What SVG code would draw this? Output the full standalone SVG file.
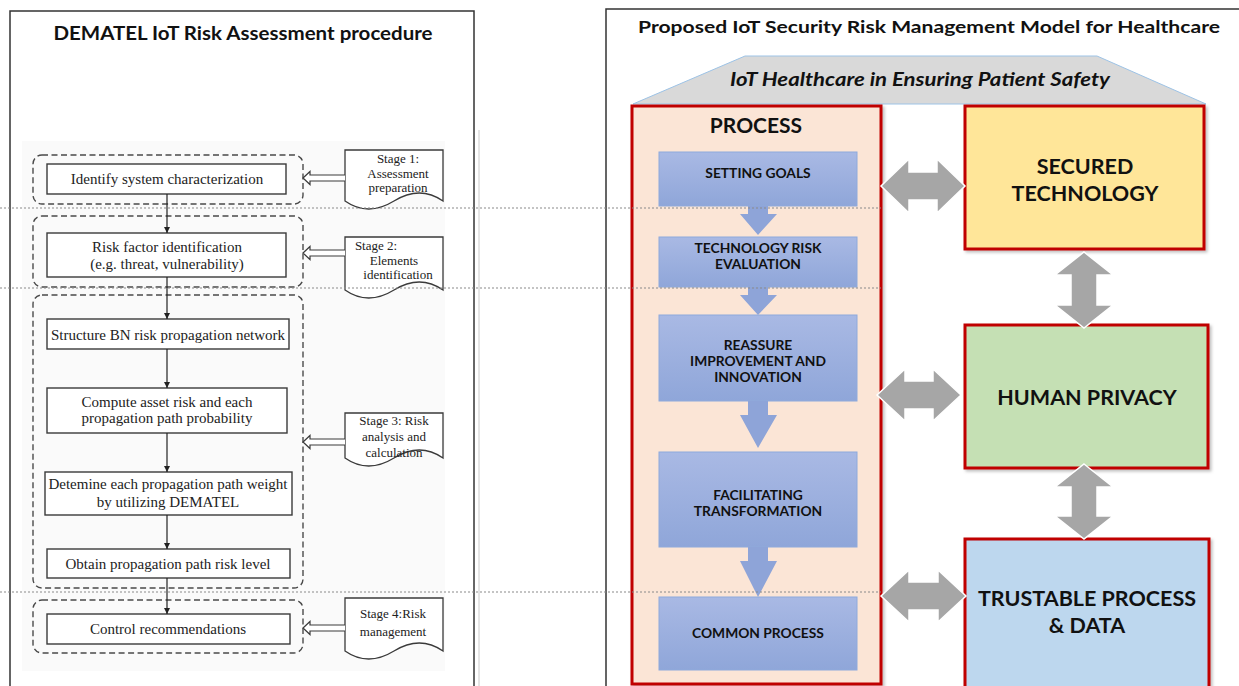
<svg xmlns="http://www.w3.org/2000/svg" width="1239" height="686" viewBox="0 0 1239 686">
  <style>
    .panel { fill: #ffffff; stroke: #333333; stroke-width: 1.5; }
    .title { font-family: Lato, "Open Sans", sans-serif; font-weight: bold; fill: #111111; text-anchor: middle; }
    .flowbox { fill: #ffffff; stroke: #3a3a3a; stroke-width: 1.4; }
    .group { fill: none; stroke: #4a4a4a; stroke-width: 1.4; stroke-dasharray: 6 3.5; }
    .serif { font-family: "Liberation Serif", "DejaVu Serif", serif; font-size: 15px; fill: #222222; text-anchor: middle; }
    .docfont { font-size: 13px; }
    .doc { fill: #ffffff; stroke: #3a3a3a; stroke-width: 1.3; }
    .hollow { fill: #ffffff; stroke: #3a3a3a; stroke-width: 1.2; }
    .link { stroke: #222222; stroke-width: 1.2; fill: none; marker-end: url(#tip); }
    .guide { stroke: #8a8a8a; stroke-width: 1.2; stroke-dasharray: 2 2; fill: none; }
    .step { fill: url(#stepFill); stroke: #8eaadb; stroke-width: 1; }
    .chev { fill: #8ea4d8; }
    .steptxt { font-family: Lato, "Open Sans", sans-serif; font-weight: bold; font-size: 13.8px; fill: #111111; text-anchor: middle; }
    .pillar { stroke: #c00000; stroke-width: 3; filter: url(#shade); }
    .pillartxt { font-family: Lato, "Open Sans", sans-serif; font-weight: bold; font-size: 21.5px; fill: #111111; text-anchor: middle; }
    .dbl { fill: #a6a6a6; stroke: #ffffff; stroke-width: 1.5; }
  </style>
  <defs>
    <marker id="tip" viewBox="0 0 10 10" refX="10" refY="5" markerWidth="6" markerHeight="6" orient="auto" markerUnits="userSpaceOnUse">
      <path d="M0,0 L10,5 L0,10 Z" fill="#222222"/>
    </marker>
    <linearGradient id="stepFill" x1="0" y1="0" x2="0" y2="1">
      <stop offset="0" stop-color="#a9b9e4"/>
      <stop offset="1" stop-color="#8fa6d9"/>
    </linearGradient>
    <filter id="shade" x="-5%" y="-5%" width="115%" height="115%">
      <feDropShadow dx="2" dy="2" stdDeviation="1.5" flood-color="#000000" flood-opacity="0.25"/>
    </filter>
  </defs>

  <rect width="1239" height="686" fill="#ffffff"/>

  <!-- left panel: DEMATEL procedure -->
  <rect class="panel" x="10" y="11" width="464" height="690"/>
  <line x1="479" y1="130" x2="479" y2="686" stroke="#c8c8c8" stroke-width="1"/>
  <text class="title" x="243" y="40" font-size="18" textLength="379" lengthAdjust="spacingAndGlyphs">DEMATEL IoT Risk Assessment procedure</text>
  <rect x="22" y="141" width="423" height="530" fill="#fafafa"/>

  <!-- right panel: proposed model -->
  <rect class="panel" x="606" y="9" width="660" height="700" stroke="#555555"/>
  <text class="title" x="929" y="33" font-size="17" textLength="582" lengthAdjust="spacingAndGlyphs">Proposed IoT Security Risk Management Model for Healthcare</text>

  <g id="roof">
    <polygon points="745,56 1097,56 1206,104 633,104" fill="#d9d9d9" stroke="#9dc3e6" stroke-width="1"/>
    <text class="title" x="920" y="86" font-size="18" font-style="italic" textLength="380" lengthAdjust="spacingAndGlyphs">IoT Healthcare in Ensuring Patient Safety</text>
  </g>

  <!-- stage groups (dashed) -->
  <g id="stage-group-1"><rect class="group" x="33" y="155" width="270" height="49" rx="9"/></g>
  <g id="stage-group-2"><rect class="group" x="33" y="216" width="270" height="71" rx="9"/></g>
  <g id="stage-group-3"><rect class="group" x="33" y="295" width="270" height="293" rx="9"/></g>
  <g id="stage-group-4"><rect class="group" x="33" y="600" width="270" height="53" rx="9"/></g>

  <!-- flow steps -->
  <g id="identify">
    <rect class="flowbox" x="47" y="164" width="239" height="30"/>
    <text class="serif" x="167" y="184">Identify system characterization</text>
  </g>
  <g id="risk-factor">
    <rect class="flowbox" x="47" y="233" width="239" height="44"/>
    <text class="serif" x="167" y="252">Risk factor identification</text>
    <text class="serif" x="167" y="269">(e.g. threat, vulnerability)</text>
  </g>
  <g id="structure-bn">
    <rect class="flowbox" x="47" y="319" width="242" height="30"/>
    <text class="serif" x="168" y="339.5">Structure BN risk propagation network</text>
  </g>
  <g id="compute-risk">
    <rect class="flowbox" x="47" y="388" width="240" height="45"/>
    <text class="serif" x="167" y="407">Compute asset risk and each</text>
    <text class="serif" x="167" y="423">propagation path probability</text>
  </g>
  <g id="path-weight">
    <rect class="flowbox" x="45" y="472" width="247" height="43"/>
    <text class="serif" x="168" y="488.5">Detemine each propagation path weight</text>
    <text class="serif" x="168" y="506.5">by utilizing DEMATEL</text>
  </g>
  <g id="risk-level">
    <rect class="flowbox" x="47" y="549" width="243" height="29"/>
    <text class="serif" x="168" y="568.5">Obtain propagation path risk level</text>
  </g>
  <g id="control">
    <rect class="flowbox" x="47" y="614" width="243" height="30"/>
    <text class="serif" x="168" y="634">Control recommendations</text>
  </g>

  <!-- stage labels -->
  <g id="stage-1">
    <path class="doc" d="M345,150 H443 V201 Q420,185 394,201 Q368,217 345,201 Z"/>
    <text class="serif docfont" x="398" y="163">Stage 1:</text>
    <text class="serif docfont" x="398" y="177.5">Assessment</text>
    <text class="serif docfont" x="398" y="192">preparation</text>
  </g>
  <g id="stage-2">
    <path class="doc" d="M345,237 H443 V290 Q420,274 394,290 Q368,306 345,290 Z"/>
    <text class="serif docfont" x="376" y="250">Stage 2:</text>
    <text class="serif docfont" x="394" y="264.5">Elements</text>
    <text class="serif docfont" x="398" y="279">identification</text>
  </g>
  <g id="stage-3">
    <path class="doc" d="M345,413 H443 V458 Q420,442 394,458 Q368,474 345,458 Z"/>
    <text class="serif docfont" x="394" y="424.5">Stage 3: Risk</text>
    <text class="serif docfont" x="394" y="440.5">analysis and</text>
    <text class="serif docfont" x="394" y="456.5">calculation</text>
  </g>
  <g id="stage-4">
    <path class="doc" d="M345,598 H443 V651 Q420,635 394,651 Q368,667 345,651 Z"/>
    <text class="serif docfont" x="393" y="617.5">Stage 4:Risk</text>
    <text class="serif docfont" x="393" y="635.5">management</text>
  </g>

  <!-- process column -->
  <g id="process">
    <rect class="pillar" x="632" y="106" width="249" height="578" fill="#fbe5d6"/>
    <text class="title" x="756" y="132.5" font-size="21">PROCESS</text>
  </g>
  <g id="setting-goals">
    <rect class="step" x="659" y="152" width="198" height="54"/>
    <text class="steptxt" x="758" y="178">SETTING GOALS</text>
  </g>
  <g id="tech-risk">
    <rect class="step" x="659" y="237" width="198" height="50"/>
    <text class="steptxt" x="758" y="253">TECHNOLOGY RISK</text>
    <text class="steptxt" x="758" y="269">EVALUATION</text>
  </g>
  <g id="reassure">
    <rect class="step" x="659" y="315" width="198" height="86"/>
    <text class="steptxt" x="758" y="350">REASSURE</text>
    <text class="steptxt" x="758" y="366">IMPROVEMENT AND</text>
    <text class="steptxt" x="758" y="382">INNOVATION</text>
  </g>
  <g id="facilitating">
    <rect class="step" x="659" y="452" width="198" height="95"/>
    <text class="steptxt" x="758" y="500">FACILITATING</text>
    <text class="steptxt" x="758" y="516">TRANSFORMATION</text>
  </g>
  <g id="common-process">
    <rect class="step" x="659" y="597" width="198" height="73"/>
    <text class="steptxt" x="758" y="638">COMMON PROCESS</text>
  </g>

  <!-- pillars -->
  <g id="secured-technology">
    <rect class="pillar" x="965" y="106" width="239" height="143" fill="#ffe699"/>
    <text class="pillartxt" x="1085" y="173.5">SECURED</text>
    <text class="pillartxt" x="1085" y="200.5">TECHNOLOGY</text>
  </g>
  <g id="human-privacy">
    <rect class="pillar" x="965" y="325" width="243" height="143" fill="#c5e0b4"/>
    <text class="pillartxt" x="1087" y="404.5">HUMAN PRIVACY</text>
  </g>
  <g id="trustable">
    <rect class="pillar" x="965" y="539" width="244" height="160" fill="#bdd7ee"/>
    <text class="pillartxt" x="1087" y="605.5">TRUSTABLE PROCESS</text>
    <text class="pillartxt" x="1087" y="632.5">&amp; DATA</text>
  </g>

  <!-- connectors -->
  <g id="connectors">
    <!-- flow links -->
    <line class="link" x1="167" y1="194" x2="167" y2="233"/>
    <line class="link" x1="167" y1="277" x2="167" y2="319"/>
    <line class="link" x1="167" y1="349" x2="167" y2="388"/>
    <line class="link" x1="167" y1="433" x2="167" y2="472"/>
    <line class="link" x1="167" y1="515" x2="167" y2="549"/>
    <line class="link" x1="167" y1="578" x2="167" y2="614"/>

    <!-- hollow stage pointers -->
    <path class="hollow" d="M345,175 H310 V171.5 L303,178 L310,184.5 V181 H345"/>
    <path class="hollow" d="M345,250 H310 V246.5 L303,253 L310,259.5 V256 H345"/>
    <path class="hollow" d="M345,439 H310 V435.5 L303,442 L310,448.5 V445 H345"/>
    <path class="hollow" d="M345,625 H310 V621.5 L303,628 L310,634.5 V631 H345"/>

    <!-- process chevrons -->
    <polygon class="chev" points="748,206 768,206 768,214 777,214 758,235 740,214 748,214"/>
    <polygon class="chev" points="748,287 768,287 768,295 777,295 758,315 740,295 748,295"/>
    <polygon class="chev" points="748,401 768,401 768,415 777,415 758,448 740,415 748,415"/>
    <polygon class="chev" points="748,547 768,547 768,561 777,561 758,597 740,561 748,561"/>

    <!-- two-way links between process and pillars -->
    <polygon class="dbl" points="881,186 909,159 909,172 937,172 937,159 965,186 937,213 937,200 909,200 909,213"/>
    <polygon class="dbl" points="877,395 905,369 905,381 933,381 933,369 961,395 933,421 933,409 905,409 905,421"/>
    <polygon class="dbl" points="881,596 909,570 909,582 938,582 938,570 966,596 938,622 938,610 909,610 909,622"/>
    <polygon class="dbl" points="1084,252 1113,275 1097,275 1097,305 1113,305 1084,328 1055,305 1071,305 1071,275 1055,275"/>
    <polygon class="dbl" points="1084,464 1113,487 1097,487 1097,516 1113,516 1084,539 1055,516 1071,516 1071,487 1055,487"/>

    <!-- stage boundary guides -->
    <line class="guide" x1="0" y1="208" x2="881" y2="208"/>
    <line class="guide" x1="0" y1="288" x2="881" y2="288"/>
    <line class="guide" x1="0" y1="592" x2="881" y2="592"/>
  </g>
</svg>
